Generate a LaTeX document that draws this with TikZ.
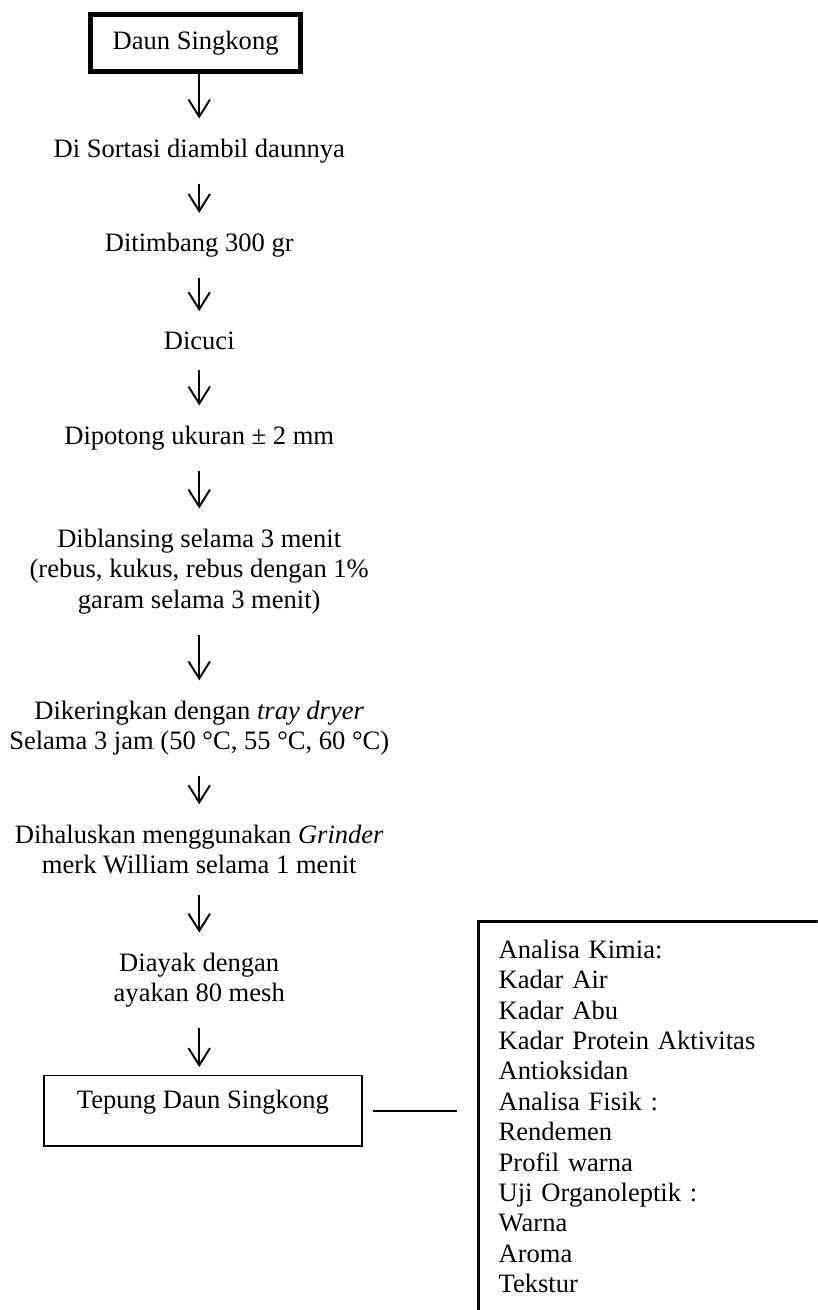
\documentclass[tikz,border=0pt]{standalone}
\usepackage{fontspec}
\setmainfont{Liberation Serif}
\usepackage{tikz}
\usetikzlibrary{arrows.meta, positioning, calc}
\newcommand{\stepfont}{\fontsize{12.4}{14.2}\selectfont}
\tikzstyle{stepnode} = [align=center, inner ysep=0.33cm, font=\stepfont]
\tikzstyle{boxnode} = [draw, inner sep=0pt, font=\stepfont]
\tikzstyle{arrow} = [line width=0.9pt, -{Straight Barb[length=8pt, width=10pt]}]

\begin{document}
\begin{tikzpicture}
    \clip (0, 0) rectangle (13.42, -21.5);

    % Start
    \node[boxnode, line width=2.3pt, minimum width=3.45cm, minimum height=0.93cm] (daun) at (3.21, -0.71) {Daun Singkong};

    % Steps
    \node[stepnode] (sortasi) at (3.27, -2.48) {Di Sortasi diambil daunnya};
    \node[stepnode] (timbang) at (3.27, -4.03) {Ditimbang 300 gr};
    \node[stepnode] (cuci) at (3.27, -5.59) {Dicuci};
    \node[stepnode] (potong) at (3.27, -7.19) {Dipotong ukuran ± 2 mm};
    \node[stepnode] (blansing) at (3.27, -9.38) {Diblansing selama 3 menit\\(rebus, kukus, rebus dengan 1\%\\garam selama 3 menit)};
    \node[stepnode] (kering) at (3.27, -11.95) {Dikeringkan dengan \textit{tray dryer}\\Selama 3 jam (50 °C, 55 °C, 60 °C)};
    \node[stepnode] (halus) at (3.27, -13.94) {Dihaluskan menggunakan \textit{Grinder}\\merk William selama 1 menit};
    \node[stepnode] (ayak) at (3.27, -16.09) {Diayak dengan\\ayakan 80 mesh};

    % Product
    \node[boxnode, line width=0.8pt, minimum width=5.22cm, text height=0.55cm, text depth=0.61cm] (tepung) at (3.33, -18.23) {Tepung Daun Singkong};

    % Analysis
    \node[boxnode, line width=1.4pt, anchor=north west, align=left, text width=6cm, inner xsep=0.33cm, inner ysep=0.3cm, text depth=6.6cm] (analisa) at (7.83, -15.10) {Analisa Kimia:\\Kadar Air\\Kadar Abu\\Kadar Protein Aktivitas\\Antioksidan\\Analisa Fisik :\\Rendemen\\Profil warna\\Uji Organoleptik :\\Warna\\Aroma\\Tekstur};

    % Arrows
    \draw[arrow] (daun.south -| sortasi.north) -- (sortasi.north);
    \draw[arrow] (sortasi) -- (timbang);
    \draw[arrow] (timbang) -- (cuci);
    \draw[arrow] (cuci) -- (potong);
    \draw[arrow] (potong) -- (blansing);
    \draw[arrow] (blansing) -- (kering);
    \draw[arrow] (kering) -- (halus);
    \draw[arrow] (halus) -- (ayak);
    \draw[arrow, shorten >=3.5pt] (ayak.south) -- (ayak.south |- tepung.north);

    % Link
    \draw[line width=0.9pt, shorten <=0.17cm, shorten >=0.33cm] (tepung.east) -- (tepung.east -| analisa.west);
\end{tikzpicture}
\end{document}
